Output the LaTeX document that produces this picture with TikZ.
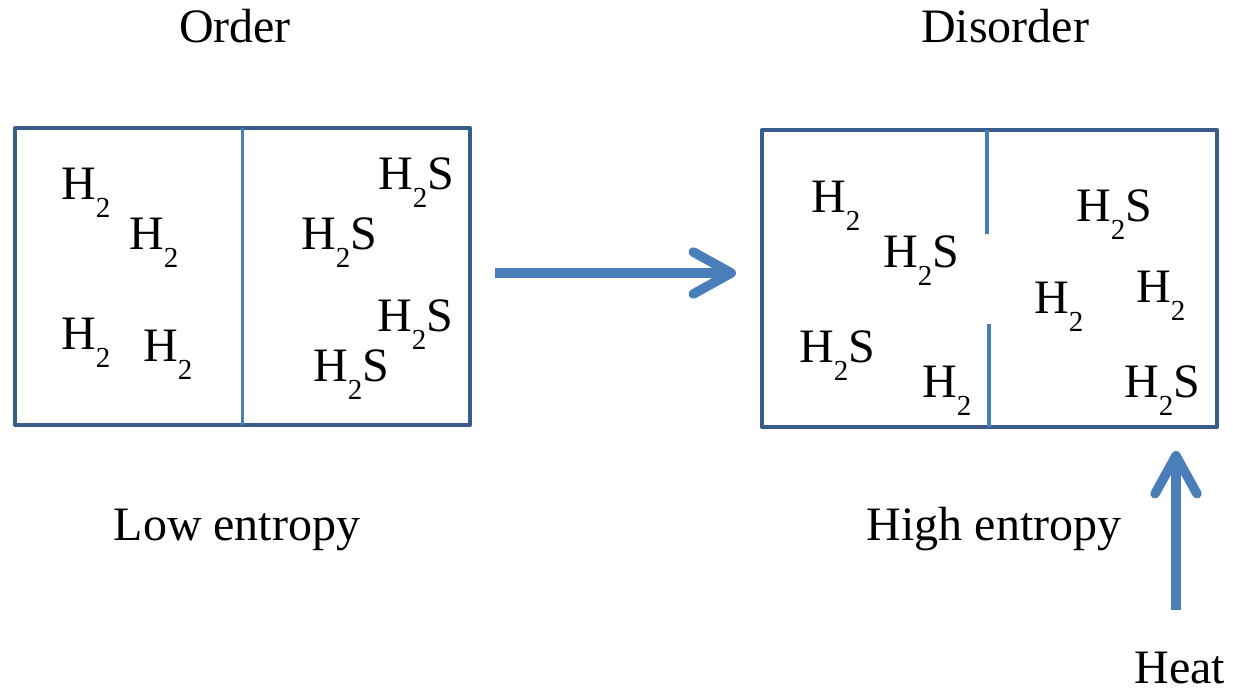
\documentclass[tikz,border=0pt]{standalone}
\usepackage{fontspec}
\setmainfont{Liberation Serif}
\usetikzlibrary{arrows.meta}
\definecolor{boxblue}{HTML}{385D8A}
\definecolor{lineblue}{HTML}{4A7EBB}
\newcommand\sbt[1]{\raisebox{-18pt}{\fontsize{29}{29}\selectfont #1}}
\newcommand\HH{H\sbt{2}}
\newcommand\HHS{H\sbt{2}S}
\begin{document}
\begin{tikzpicture}[x=1pt,y=-1pt,
  every node/.style={font=\fontsize{48}{56}\selectfont, inner sep=0pt},
  mol/.style={anchor=base west},
  lbl/.style={anchor=base},
  boxnode/.style={draw=boxblue, line width=4pt, minimum width=455pt, minimum height=297pt, line join=round},
  wall/.style={draw=lineblue, line width=3.6pt},
  bigarrow/.style={draw=lineblue, line width=9.5pt, -{Straight Barb[length=38pt,width=42pt,round]}}]
\useasboundingbox (0,0) rectangle (1233,692);
% titles
\node[lbl] (order) at (235,43) {Order};
\node[lbl] (disorder) at (1005,43) {Disorder};
\node[lbl] (low) at (237,540) {Low entropy};
\node[lbl] (high) at (994,540) {High entropy};
\node[lbl] (heat) at (1180,683) {Heat};
% boxes
\node[boxnode] (box1) at (242.5,276.5) {};
\node[boxnode] (box2) at (989.5,278.5) {};
% walls
\draw[wall] ([yshift=-2pt]box1.north) -- ([yshift=2pt]box1.south);
\coordinate (g1) at (987,234);
\coordinate (g2) at (989,324);
\draw[wall] ([yshift=-2pt]box2.north -| g1) -- (g1);
\draw[wall] (g2) -- ([yshift=2pt]box2.south -| g2);
% molecules left
\node[mol] (l1) at (61,200) {\HH};
\node[mol] (l2) at (129,250) {\HH};
\node[mol] (l3) at (61,349) {\HH};
\node[mol] (l4) at (143,361) {\HH};
\node[mol] (l5) at (378,190) {\HHS};
\node[mol] (l6) at (301,250) {\HHS};
\node[mol] (l7) at (377,331) {\HHS};
\node[mol] (l8) at (313,381) {\HHS};
% molecules right
\node[mol] (r1) at (811,213) {\HH};
\node[mol] (r2) at (883,268) {\HHS};
\node[mol] (r3) at (799,362) {\HHS};
\node[mol] (r4) at (922,397) {\HH};
\node[mol] (r5) at (1076,222) {\HHS};
\node[mol] (r6) at (1034,313) {\HH};
\node[mol] (r7) at (1136,302) {\HH};
\node[mol] (r8) at (1124,397) {\HHS};
% arrows
\coordinate (a1) at (495,273);
\coordinate (a2) at (736,273);
\draw[bigarrow, line cap=butt] (a1) -- (a2);
\coordinate (h1) at (1176,610);
\coordinate (h2) at (1176,451);
\draw[bigarrow, line cap=butt] (h1) -- (h2);
\end{tikzpicture}
\end{document}
